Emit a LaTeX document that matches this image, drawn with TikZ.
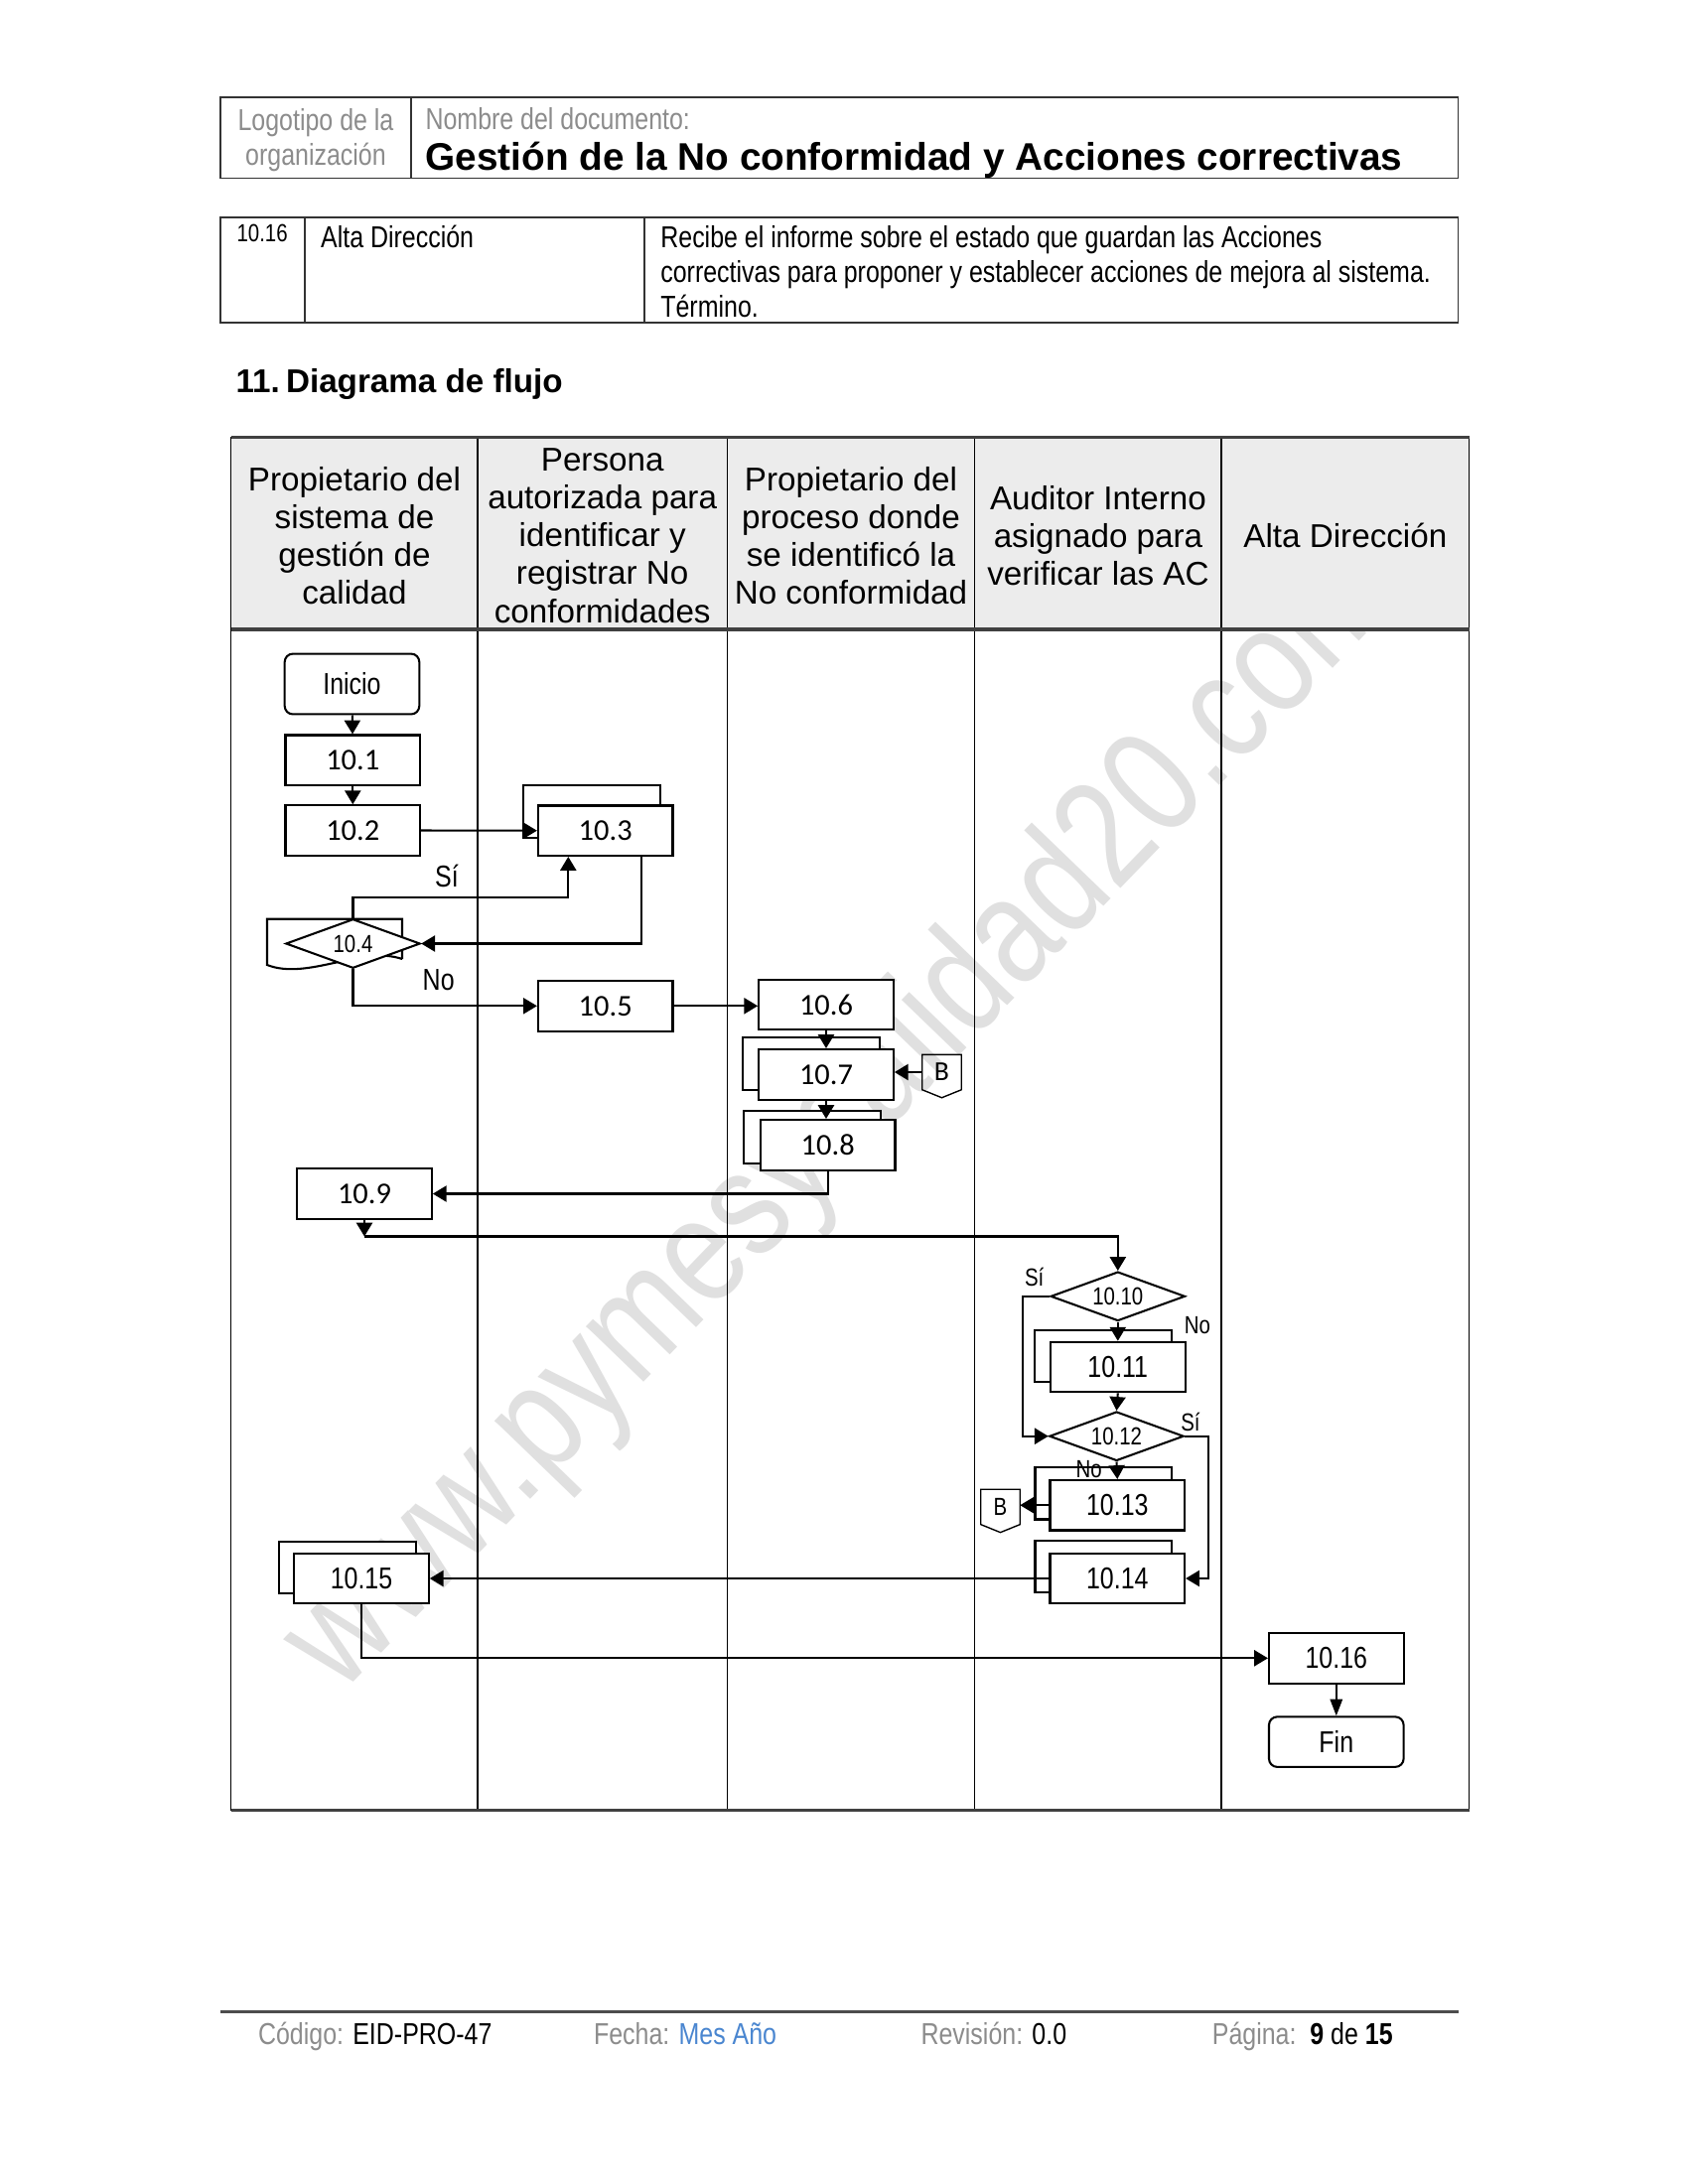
\documentclass[tikz,border=0pt]{standalone}
\usepackage{fontspec}
\setmainfont{Liberation Sans}
\newfontfamily\narrowf[FakeStretch=0.82]{Liberation Sans}
\newfontfamily\calib{Carlito}
\usetikzlibrary{arrows.meta,shapes.geometric}
\definecolor{mesblue}{RGB}{74,134,208}
\definecolor{hdrgray}{RGB}{236,236,236}
\definecolor{lblgray}{RGB}{140,140,140}
\definecolor{wmgray}{RGB}{224,224,224}
\pgfdeclarelayer{bgA}
\pgfdeclarelayer{bgB}
\pgfsetlayers{bgA,bgB,main}
\tikzset{
 nf/.style={font=\narrowf\fontsize{11}{13}\selectfont},
 nfs/.style={font=\narrowf\fontsize{9}{11}\selectfont},
 cf/.style={font=\calib\fontsize{11}{13}\selectfont},
 bx/.style={draw, line width=0.75pt, fill=white, minimum width=49pt, minimum height=18.25pt, inner sep=0pt},
 termbox/.style={bx, rounded corners=3pt, nf},
 dec/.style={diamond, draw, line width=0.75pt, fill=white, aspect=2.75, inner sep=0pt, minimum width=48.9pt, minimum height=17.9pt, nfs},
 arr/.style={line width=0.75pt, -{Triangle[length=5pt,width=5.8pt]}},
 ln/.style={line width=0.75pt},
 offp/.style={minimum width=13.9pt, minimum height=12.4pt, inner sep=0pt},
 lh/.style={align=center, font=\fontsize{12}{13.8}\selectfont, inner sep=0pt},
 txl/.style={anchor=base west, inner sep=0pt},
}
\newcommand\backrect[3]{\begin{pgfonlayer}{bgB}\draw[line width=0.75pt, fill=white] ([xshift=#2,yshift=#3]#1.north west) rectangle ([xshift=#2,yshift=#3]#1.south east);\end{pgfonlayer}}
\begin{document}
\begin{tikzpicture}[x=0.36135pt,y=-0.36135pt]
\useasboundingbox (0,0) rectangle (1700,2200);
\begin{pgfonlayer}{bgA}
\fill[white] (0,0) rectangle (1700,2200);
\node[font=\narrowf\fontsize{55}{60}\selectfont, text=wmgray, rotate=46] (wm) at (848,1129) {www.pymesycalidad20.com};
\fill[hdrgray] (232.8,440.4) rectangle (1479.7,634);
\draw[line width=0.5pt] (232.8,440.4) rectangle (1479.7,1823.4);
\foreach \xx in {481.1,732.2,981.8,1230.1} \draw[line width=0.5pt] (\xx,440.4) -- (\xx,1823.4);
\draw[line width=1.2pt, black!75] (232.8,440.4) -- (1479.7,440.4);
\draw[line width=1.2pt, black!75] (232.8,634) -- (1479.7,634);
\draw[line width=1.2pt, black!75] (232.8,1823.4) -- (1479.7,1823.4);
\end{pgfonlayer}

% page header
\draw[line width=0.7pt, black!80] (221.6,98) rectangle (1468.5,179.5);
\draw[line width=0.7pt, black!80] (413.8,98) -- (413.8,179.5);
\node[text=lblgray, font=\narrowf\fontsize{11}{12.65}\selectfont, align=center, inner sep=0pt] (logo) at (318,141) {Logotipo de la\\organización};
\node[text=lblgray, nf, txl] (nomdoc) at (428,130) {Nombre del documento:};
\node[font=\bfseries\fontsize{14}{16}\selectfont, txl] (titulo) at (428,171) {Gestión de la No conformidad y Acciones correctivas};

% table row 10.16
\draw[line width=0.7pt, black!80] (221.6,218.8) rectangle (1468.5,325.4);
\draw[line width=0.7pt, black!80] (307,218.8) -- (307,325.4);
\draw[line width=0.7pt, black!80] (649.4,218.8) -- (649.4,325.4);
\node[nfs, txl] (tnum) at (238,243) {10.16};
\node[nf, txl] (tresp) at (322.6,249) {Alta Dirección};
\node[nf, txl] (td1) at (664.8,249) {Recibe el informe sobre el estado que guardan las Acciones};
\node[nf, txl] (td2) at (664.8,284.5) {correctivas para proponer y establecer acciones de mejora al sistema.};
\node[nf, txl] (td3) at (664.8,319.6) {Término.};

% section title
\node[font=\bfseries\fontsize{12}{14}\selectfont, txl] (secn) at (237,395) {11.};
\node[font=\bfseries\fontsize{12}{14}\selectfont, txl] (sect) at (287.5,395) {Diagrama de flujo};

% lane headers
\node[lh] (h1) at (357,539.5) {Propietario del\\sistema de\\gestión de\\calidad};
\node[lh] (h2) at (606.7,539.5) {Persona\\autorizada para\\identificar y\\registrar No\\conformidades};
\node[lh] (h3) at (857,539.5) {Propietario del\\proceso donde\\se identificó la\\No conformidad};
\node[lh] (h4) at (1106,539.5) {Auditor Interno\\asignado para\\verificar las AC};
\node[lh] (h5) at (1354.9,539.5) {Alta Dirección};

% nodes
\node[termbox, minimum height=22pt] (inicio) at (354.5,689) {Inicio};
\node[bx, cf] (n101) at (355.3,765.7) {10.1};
\node[bx, cf] (n102) at (355.3,836.5) {10.2};
\node[bx, cf] (n103) at (609.7,836.7) {10.3};
\backrect{n103}{-5.06pt}{6.87pt}
\node[dec] (n104) at (355.5,950.5) {10.4};
\begin{pgfonlayer}{bgB}
\draw[ln, fill=white] (405,966) -- (405,925.7) -- (269,925.7) -- (269,972) .. controls (310,988) and (365,952) .. (405,966);
\end{pgfonlayer}
\node[bx, cf] (n105) at (609.7,1013.3) {10.5};
\node[bx, cf] (n106) at (832,1012) {10.6};
\node[bx, cf] (n107) at (832,1082.3) {10.7};
\backrect{n107}{-5.42pt}{3.97pt}
\node[bx, cf] (n108) at (833.7,1153.3) {10.8};
\backrect{n108}{-5.78pt}{2.89pt}
\node[offp, font=\calib\fontsize{10}{12}\selectfont] (bA) at (948.5,1080) {B};
\draw[line width=0.5pt] (bA.north west) -- (bA.north east) -- (bA.south east) -- ([yshift=-2.9pt]bA.south) -- (bA.south west) -- cycle;
\node[bx, cf] (n109) at (367,1202.5) {10.9};
\node[dec] (n110) at (1125.8,1305.8) {10.10};
\node[bx, nf] (n111) at (1125.8,1377) {10.11};
\backrect{n111}{-5.42pt}{3.97pt}
\node[dec] (n112) at (1124.5,1446.7) {10.12};
\node[bx, nf] (n113) at (1125.3,1516.2) {10.13};
\backrect{n113}{-5.06pt}{4.34pt}
\node[offp, nfs] (bB) at (1007.5,1517.9) {B};
\draw[line width=0.5pt] (bB.north west) -- (bB.north east) -- (bB.south east) -- ([yshift=-2.9pt]bB.south) -- (bB.south west) -- cycle;
\node[bx, nf] (n114) at (1125.3,1590) {10.14};
\backrect{n114}{-5.06pt}{4.34pt}
\node[bx, nf] (n115) at (364,1590) {10.15};
\backrect{n115}{-5.06pt}{3.97pt}
\node[bx, nf] (n116) at (1345.8,1670.3) {10.16};
\node[termbox] (fin) at (1345.8,1754.6) {Fin};

% connectors
\draw[arr] (inicio) -- (n101);
\draw[arr] (n101) -- (n102);
\draw[arr] (n102.east) -- (n103.west);
\draw[arr] (n103.south -| 646,0) |- (n104.east);
\draw[arr] (n104.north) -- (n104.north |- 0,904) -| (n103.south -| 572.3,0);
\node[nf] (lsi1) at (450,882.7) {Sí};
\draw[arr] (n104.south) |- (n105.west);
\node[nf] (lno1) at (441.7,986.7) {No};
\draw[arr] (n105.east) -- (n105.east -| n106.west);
\draw[arr] (n106.south) -- (n107.north);
\draw[arr] (n107.south) -- (n107.south |- n108.north);
\draw[arr] (bA.west) -- (bA.west -| n107.east);
\draw[arr] (n108.south) |- (n109.east);
\coordinate (j1) at (367,1245.5);
\draw[arr] (n109.south) -- (j1);
\draw[arr] (j1) -| (n110.north);
\draw[arr] (n110.west) -- (n110.west -| 1030,0) |- (n112.west);
\node[nfs] (lsi2) at (1041.7,1286.7) {Sí};
\node[nfs] (lno2) at (1206,1335) {No};
\draw[arr] (n110.south) -- (n111.north);
\draw[arr] (n111.south) -- (n112.north);
\draw[arr] (n112.east) -- (n112.east -| 1217.3,0) |- (n114.east);
\node[nfs] (lsi3) at (1199,1432.7) {Sí};
\draw[arr] (n112.south) -- (n113.north);
\node[nfs] (lno3) at (1096.7,1480) {No};
\draw[arr] (n113.west) -- (n113.west -| bB.east);
\draw[arr] (n114.west) -- (n115.east);
\draw[arr] (n115.south) |- (n116.west);
\draw[line width=0.5pt, -{Triangle[length=6pt,width=4.5pt]}] (n116.south) -- (fin.north);

% footer
\draw[line width=1pt, black!70] (221.6,2026.8) -- (1468.5,2026.8);
\node[nf, txl] (f1) at (259.5,2059) {\textcolor{lblgray}{Código:} EID-PRO-47};
\node[nf, txl] (f2) at (597.5,2059) {\textcolor{lblgray}{Fecha:} \textcolor{mesblue}{Mes Año}};
\node[nf, txl] (f3) at (927,2059) {\textcolor{lblgray}{Revisión:} 0.0};
\node[nf, txl] (f4) at (1220.3,2059) {\textcolor{lblgray}{Página:}\ \ \textbf{9} de \textbf{15}};
\end{tikzpicture}
\end{document}
